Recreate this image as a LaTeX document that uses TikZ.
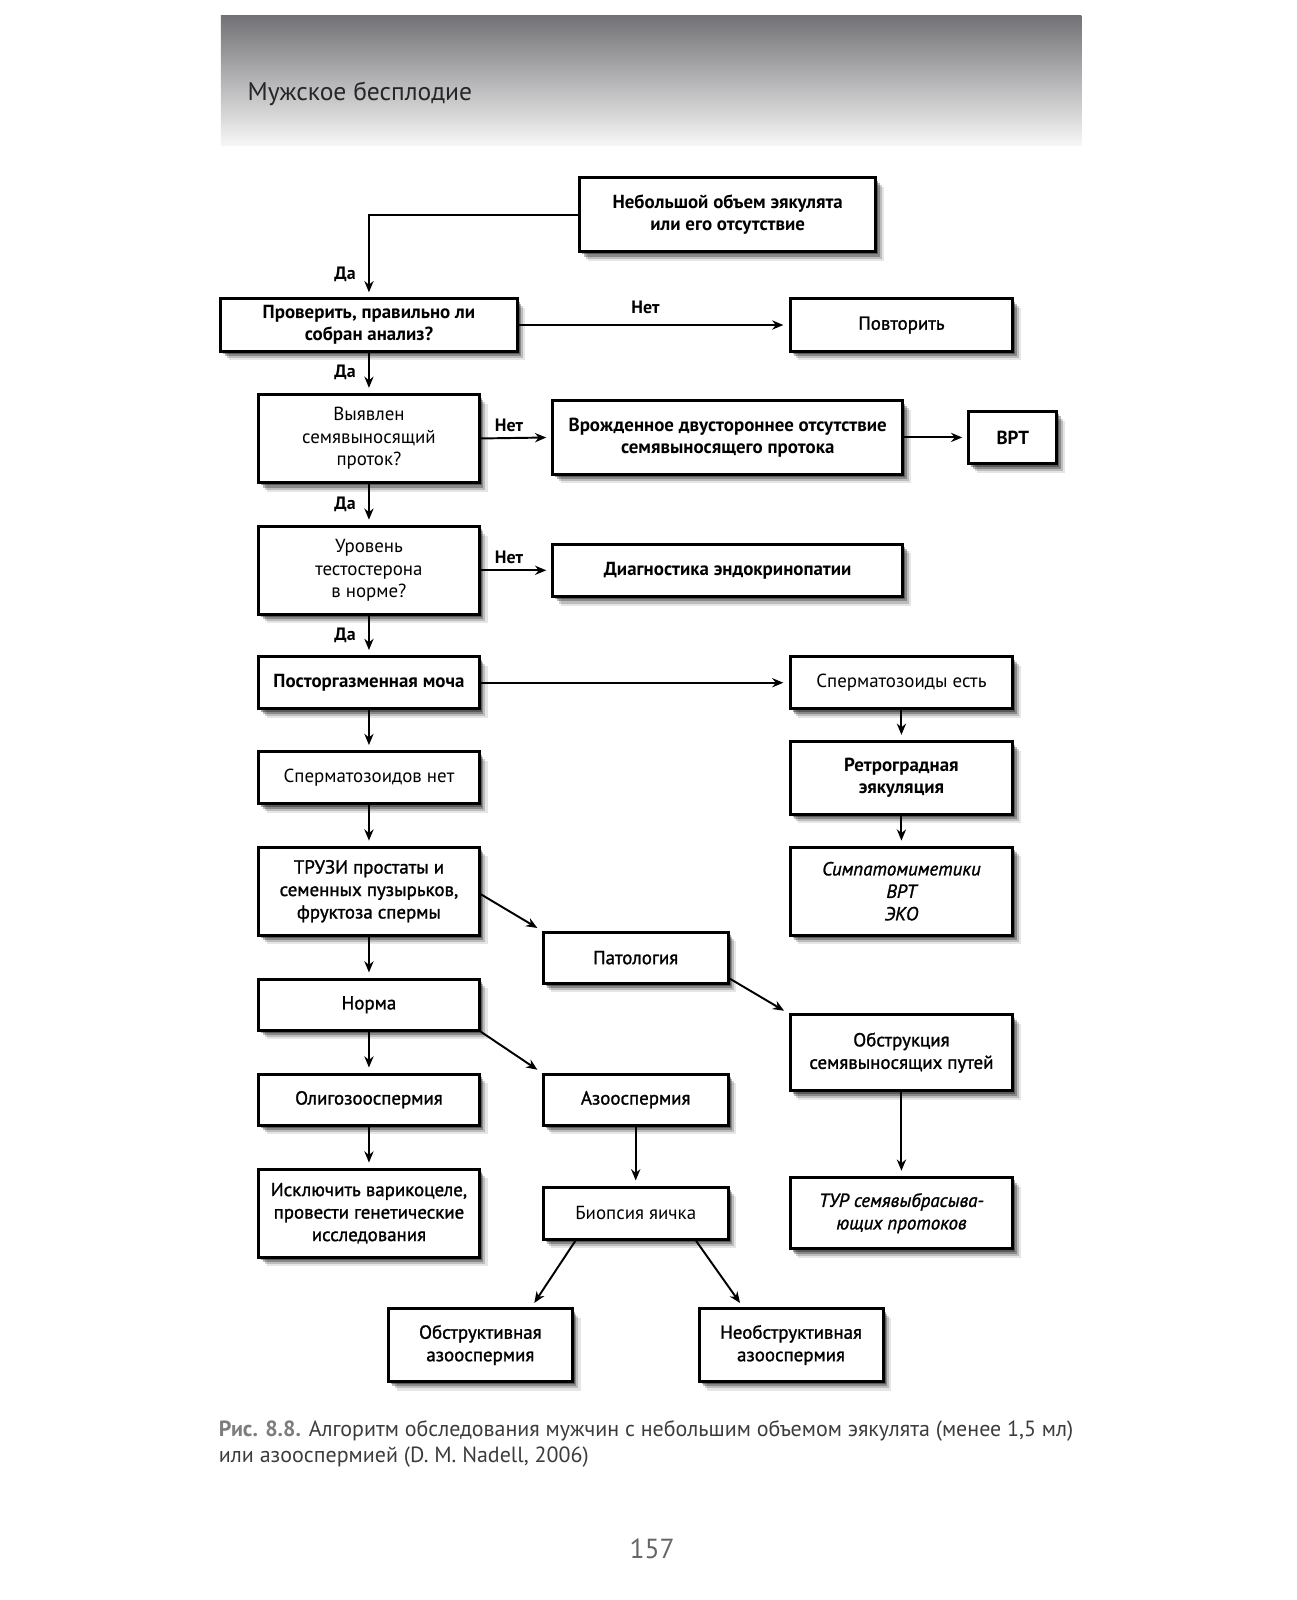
\documentclass[tikz,border=0pt]{standalone}
\usepackage{fontspec}
\setmainfont{PT Sans}
\newfontfamily\medfont[FakeBold=1.3]{PT Sans}
\usetikzlibrary{shadows,arrows.meta}
\definecolor{hdrtop}{RGB}{114,114,118}
\definecolor{hdrbot}{RGB}{246,246,246}
\definecolor{capgray}{RGB}{125,125,128}
\definecolor{captext}{RGB}{60,60,62}
\tikzset{
  softshadow/.style={
    drop shadow={shadow xshift=8pt,shadow yshift=-9pt,opacity=0.10,fill=black},
    drop shadow={shadow xshift=6pt,shadow yshift=-7pt,opacity=0.18,fill=black},
    drop shadow={shadow xshift=4pt,shadow yshift=-5pt,opacity=0.28,fill=black},
    drop shadow={shadow xshift=2.5pt,shadow yshift=-3pt,opacity=0.35,fill=black}},
  box/.style={draw, line width=3pt, fill=white, align=center, inner sep=2pt,
    softshadow, font=\fontsize{18.5}{22}\selectfont},
  hb/.style={box, font=\fontsize{18.5}{22}\selectfont\bfseries},
  mb/.style={box, font=\fontsize{18.5}{22}\selectfont\medfont},
  rb/.style={box, font=\fontsize{18.5}{22}\selectfont},
  ib/.style={box, font=\fontsize{18.5}{22}\selectfont\medfont\itshape},
  arr/.style={line width=1.9pt, -{Stealth[length=11pt,width=9pt]}, shorten >=5pt},
  lbl/.style={font=\fontsize{17.5}{20}\selectfont\bfseries, inner sep=2pt},
}
\begin{document}
\begin{tikzpicture}[x=1pt,y=-1pt]
\useasboundingbox (0,0) rectangle (1269,1565.5);
% header
\shade[top color=hdrtop, bottom color=hdrbot] (216,15) rectangle (1058,142);
\node[anchor=west, font=\fontsize{25}{28}\selectfont, text=black!85, inner sep=0pt] (title) at (242,92) {Мужское бесплодие};

% boxes
\node[hb, minimum width=290pt, minimum height=72pt] (n1) at (712,210) {Небольшой объем эякулята\\или его отсутствие};
\node[hb, minimum width=290pt, minimum height=51pt] (n2) at (361,318) {Проверить, правильно ли\\собран анализ?};
\node[mb, minimum width=218pt, minimum height=51pt] (n3) at (882,318) {Повторить};
\node[rb, minimum width=216pt, minimum height=86pt] (n4) at (361,429) {Выявлен\\семявыносящий\\проток?};
\node[hb, minimum width=342pt, minimum height=72pt] (n5) at (712,428) {Врожденное двустороннее отсутствие\\семявыносящего протока};
\node[hb, minimum width=86pt, minimum height=51pt] (n6) at (991,428) {ВРТ};
\node[rb, minimum width=216pt, minimum height=86pt] (n7) at (361,558) {Уровень\\тестостерона\\в норме?};
\node[hb, minimum width=342pt, minimum height=51pt] (n8) at (712,558) {Диагностика эндокринопатии};
\node[hb, minimum width=216pt, minimum height=51pt] (n9) at (361,668) {Посторгазменная моча};
\node[rb, minimum width=218pt, minimum height=51pt] (n10) at (882,668) {Сперматозоиды есть};
\node[rb, minimum width=216pt, minimum height=51pt] (n11) at (361,761) {Сперматозоидов нет};
\node[hb, minimum width=218pt, minimum height=71pt] (n12) at (882,761) {Ретроградная\\эякуляция};
\node[ib, minimum width=218pt, minimum height=86pt] (n13) at (882,872) {Симпатомиметики\\ВРТ\\ЭКО};
\node[mb, minimum width=216pt, minimum height=86pt] (n14) at (361,872) {ТРУЗИ простаты и\\семенных пузырьков,\\фруктоза спермы};
\node[mb, minimum width=181pt, minimum height=50pt] (n15) at (622,937) {Патология};
\node[mb, minimum width=216pt, minimum height=50pt] (n16) at (361,983) {Норма};
\node[mb, minimum width=218pt, minimum height=74pt] (n17) at (882,1030) {Обструкция\\семявыносящих путей};
\node[mb, minimum width=216pt, minimum height=50pt] (n18) at (361,1076) {Олигозооспермия};
\node[mb, minimum width=181pt, minimum height=50pt] (n19) at (622,1076) {Азооспермия};
\node[mb, minimum width=216pt, minimum height=86pt] (n20) at (361,1187) {Исключить варикоцеле,\\провести генетические\\исследования};
\node[rb, minimum width=181pt, minimum height=51pt] (n21) at (622,1187) {Биопсия яичка};
\node[ib, minimum width=218pt, minimum height=70pt] (n22) at (882,1187) {ТУР семявыбрасыва-\\ющих протоков};
\node[mb, minimum width=180pt, minimum height=71pt] (n23) at (470,1316) {Обструктивная\\азооспермия};
\node[mb, minimum width=180pt, minimum height=71pt] (n24) at (774,1316) {Необструктивная\\азооспермия};

% connectors
\draw[arr] (n1.west) -| node[lbl, left, pos=0.86, xshift=-10pt] {Да} (n2.north);
\draw[arr] (n2.east) -- node[lbl, above, pos=0.47, yshift=8pt] {Нет} (n3.west);
\draw[arr] (n2.south) -- node[lbl, left, pos=0.5, xshift=-10pt] {Да} (n4.north);
\draw[arr] (n4.east) -- node[lbl, above, pos=0.4, yshift=3pt] {Нет} (n5.west);
\draw[arr] (n5.east) -- (n6.west);
\draw[arr] (n4.south) -- node[lbl, left, pos=0.5, xshift=-10pt] {Да} (n7.north);
\draw[arr] (n7.east) -- node[lbl, above, pos=0.4, yshift=3pt] {Нет} (n8.west);
\draw[arr] (n7.south) -- node[lbl, left, pos=0.5, xshift=-10pt] {Да} (n9.north);
\draw[arr] (n9.east) -- (n10.west);
\draw[arr] (n9.south) -- (n11.north);
\draw[arr] (n10.south) -- (n12.north);
\draw[arr] (n12.south) -- (n13.north);
\draw[arr] (n11.south) -- (n14.north);
\draw[arr] (n14.south) -- (n16.north);
\draw[arr] (n16.south) -- (n18.north);
\draw[arr] (n18.south) -- (n20.north);
\draw[arr] (n19.south) -- (n21.north);
\draw[arr] (n17.south) -- (n22.north);
\draw[arr] ([yshift=-3pt]n14.east) -- (n15.north west);
\draw[arr] ([yshift=6pt]n15.south east) -- (n17.north west);
\draw[arr] (n16.south east) -- (n19.north west);
\draw[arr] ([xshift=33pt]n21.south west) -- ([xshift=50pt]n23.north);
\draw[arr] ([xshift=-33pt]n21.south east) -- ([xshift=-47pt]n24.north);

% caption
\node[anchor=north west, align=left, inner sep=0pt, text=captext,
      font=\fontsize{21.5}{25}\selectfont] (cap) at (214,1390)
  {\textcolor{capgray}{\bfseries Рис. 8.8.} Алгоритм обследования мужчин с небольшим объемом эякулята (менее 1,5 мл)\\
   или азооспермией (D. M. Nadell, 2006)};
\node[font=\fontsize{27}{30}\selectfont, text=black!60] (pg) at (638,1515) {157};
\end{tikzpicture}
\end{document}
